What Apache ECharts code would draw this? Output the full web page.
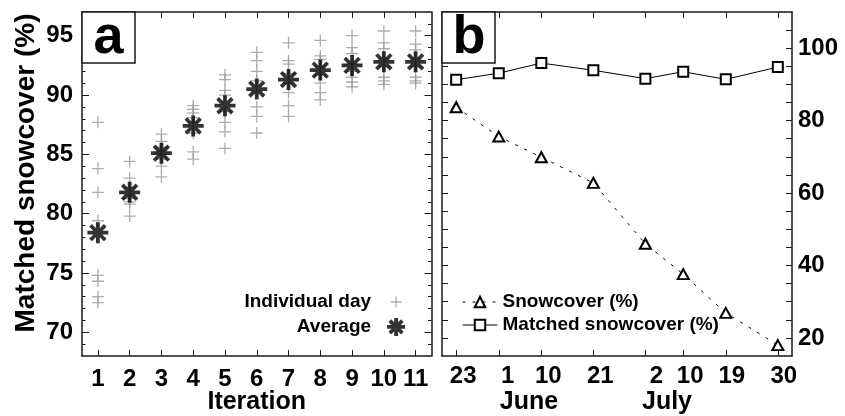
<!DOCTYPE html>
<html>
<head>
<meta charset="utf-8">
<script src="https://cdn.jsdelivr.net/npm/echarts@6/dist/echarts.min.js"></script>
<style>
html,body{margin:0;padding:0;background:#fff;}
#chart{width:845px;height:416px;}
</style>
</head>
<body>
<div id="chart"></div>
<script>
// ---------- Panel a data ----------
const iterations = [1, 2, 3, 4, 5, 6, 7, 8, 9, 10, 11];
const individualDayValues = [
  [87.7, 83.8, 81.8, 79.4, 74.8, 74.3, 73.0, 72.5],
  [84.4, 83.0, 82.2, 81.6, 81.3, 81.0, 80.8, 79.8],
  [86.7, 86.1, 85.6, 85.3, 85.0, 84.6, 84.0, 83.1],
  [89.1, 88.8, 88.5, 88.1, 87.7, 86.8, 85.2, 84.6],
  [91.7, 91.3, 90.4, 90.0, 88.6, 87.7, 86.9, 85.5],
  [93.6, 92.9, 92.0, 91.2, 90.3, 89.0, 88.2, 86.8],
  [94.4, 92.9, 92.6, 91.8, 91.0, 90.2, 89.1, 88.2],
  [94.6, 93.3, 93.0, 92.4, 91.7, 91.0, 90.2, 89.6],
  [95.0, 94.0, 93.5, 92.6, 92.0, 91.5, 91.1, 90.7],
  [95.4, 94.4, 93.9, 93.0, 92.4, 91.5, 91.2, 90.9],
  [95.4, 94.3, 93.8, 93.0, 92.4, 91.5, 91.2, 91.0]
];
const averageValues = [78.4, 81.8, 85.1, 87.4, 89.1, 90.5, 91.3, 92.1, 92.5, 92.8, 92.8];
const leftYLabels = [70, 75, 80, 85, 90, 95];
const leftYMinorTicks = [69,70,71,72,73,74,75,76,77,78,79,80,81,82,83,84,85,86,87,88,89,90,91,92,93,94,95,96];

// ---------- Panel b data ----------
const dateDayOfYear = [143, 152, 161, 172, 183, 191, 200, 211];   // May 23 ... Jul 30
const dateLabels = ['23', '1', '10', '21', '2', '10', '19', '30'];
const monthLabels = ['June', 'July'];
const snowcover = [83.7, 75.6, 69.9, 62.8, 46.0, 37.6, 26.9, 18.0];
const matchedSnowcover = [91.3, 93.1, 95.9, 93.9, 91.6, 93.5, 91.4, 94.8];
const rightYLabels = [20, 40, 60, 80, 100];
const rightYTicks = [20,25,30,35,40,45,50,55,60,65,70,75,80,85,90,95,100,105];

// label nudges (style only)
const dateLabelNudge = [7, 9, 7, 7, 11, 7, 6, 6];

const FONT = '"Liberation Sans", Arial, Helvetica, sans-serif';
const AX = '#1a1a1a';

const individualData = [];
individualDayValues.forEach((vals, i) => vals.forEach(v => individualData.push([iterations[i], v])));
const averageData = iterations.map((it, i) => [it, averageValues[i]]);
const snowData = dateDayOfYear.map((d, i) => [d, snowcover[i]]);
const matchedData = dateDayOfYear.map((d, i) => [d, matchedSnowcover[i]]);

const plusPath = 'path://M0,6L12,6M6,0L6,12';
const plusLegendPath = 'path://M-4,-4M16,16M0,6L12,6M6,0L6,12';
const starPath = 'path://M0,10L20,10M10,0L10,20M3,3L17,17M3,17L17,3';

const tickLabelStyle = {fontFamily: FONT, fontWeight: 'bold', fontSize: 24, color: '#000'};
const axisLine = {show: true, lineStyle: {color: AX, width: 1.5}};

const rich = {};
dateLabelNudge.forEach((n, i) => {
  rich['s' + i] = {fontFamily: FONT, fontWeight: 'bold', fontSize: 24, color: '#000', padding: [0, 0, 0, 2 * n]};
});

const chart = echarts.init(document.getElementById('chart'), null, {renderer: 'canvas'});
chart.setOption({
  animation: false,
  backgroundColor: '#fff',
  grid: [
    {left: 82, top: 12, width: 349.5, height: 344, containLabel: false, outerBoundsMode: 'none'},
    {left: 442, top: 12, width: 350, height: 344, containLabel: false, outerBoundsMode: 'none'}
  ],
  xAxis: [
    {gridIndex: 0, type: 'value', position: 'bottom', min: 0.5, max: 11.5,
     axisLine: axisLine, splitLine: {show: false},
     axisTick: {inside: true, length: 6, customValues: iterations, lineStyle: {color: AX, width: 1}},
     axisLabel: Object.assign({customValues: iterations, margin: 11}, tickLabelStyle),
     name: 'Iteration', nameLocation: 'middle', nameGap: 34, nameMoveOverlap: false,
     nameTextStyle: {fontFamily: FONT, fontWeight: 'bold', fontSize: 25, color: '#000'}},
    {gridIndex: 0, type: 'value', position: 'top', min: 0.5, max: 11.5,
     axisLine: axisLine, splitLine: {show: false},
     axisTick: {inside: true, length: 6, customValues: iterations, lineStyle: {color: AX, width: 1}},
     axisLabel: {show: false}},
    {gridIndex: 1, type: 'value', position: 'bottom', min: 140, max: 214,
     axisLine: axisLine, splitLine: {show: false},
     axisTick: {inside: true, length: 6, customValues: dateDayOfYear, lineStyle: {color: AX, width: 1}},
     axisLabel: Object.assign({customValues: dateDayOfYear, margin: 8, rich: rich,
       formatter: function (v) { const i = dateDayOfYear.indexOf(v); return '{s' + i + '|' + dateLabels[i] + '}'; }}, tickLabelStyle)},
    {gridIndex: 1, type: 'value', position: 'top', min: 140, max: 214,
     axisLine: axisLine, splitLine: {show: false},
     axisTick: {inside: true, length: 6, customValues: dateDayOfYear, lineStyle: {color: AX, width: 1}},
     axisLabel: {show: false}}
  ],
  yAxis: [
    {gridIndex: 0, type: 'value', position: 'left', min: 68, max: 97,
     axisLine: axisLine, splitLine: {show: false},
     axisTick: {inside: true, length: 7, customValues: leftYLabels, lineStyle: {color: AX, width: 1}},
     axisLabel: Object.assign({customValues: leftYLabels, margin: 9}, tickLabelStyle),
     name: 'Matched snowcover (%)', nameLocation: 'middle', nameGap: 42, nameRotate: 90,
     nameTextStyle: {fontFamily: FONT, fontWeight: 'bold', fontSize: 28, color: '#000', padding: [0, 0, 0, 22]}},
    {gridIndex: 0, type: 'value', position: 'left', min: 68, max: 97,
     axisLine: {show: false}, splitLine: {show: false},
     axisTick: {inside: true, length: 3.5, customValues: leftYMinorTicks, lineStyle: {color: AX, width: 1}},
     axisLabel: {show: false}},
    {gridIndex: 0, type: 'value', position: 'right', min: 68, max: 97,
     axisLine: axisLine, splitLine: {show: false},
     axisTick: {inside: true, length: 7, customValues: leftYLabels, lineStyle: {color: AX, width: 1}},
     axisLabel: {show: false}},
    {gridIndex: 0, type: 'value', position: 'right', min: 68, max: 97,
     axisLine: {show: false}, splitLine: {show: false},
     axisTick: {inside: true, length: 3.5, customValues: leftYMinorTicks, lineStyle: {color: AX, width: 1}},
     axisLabel: {show: false}},
    {gridIndex: 1, type: 'value', position: 'left', min: 15, max: 110,
     axisLine: axisLine, splitLine: {show: false},
     axisTick: {inside: true, length: 6, customValues: rightYTicks, lineStyle: {color: AX, width: 1}},
     axisLabel: {show: false}},
    {gridIndex: 1, type: 'value', position: 'right', min: 15, max: 110,
     axisLine: axisLine, splitLine: {show: false},
     axisTick: {inside: true, length: 6, customValues: rightYTicks, lineStyle: {color: AX, width: 1}},
     axisLabel: Object.assign({customValues: rightYLabels, margin: 6}, tickLabelStyle)}
  ],
  legend: [
    {orient: 'vertical', align: 'right', right: 438, top: 292, padding: 0, itemWidth: 40, itemHeight: 18, itemGap: 4,
     selectedMode: false,
     textStyle: {fontFamily: FONT, fontWeight: 'bold', fontSize: 19, color: '#000', lineHeight: 20},
     data: [
       {name: 'Individual day', icon: plusLegendPath, itemStyle: {color: '#999', borderColor: '#999', borderWidth: 1.3}},
       {name: 'Average', itemStyle: {color: '#000', borderColor: '#000', borderWidth: 3.8}}
     ]},
    {orient: 'vertical', align: 'left', left: 462, top: 292, padding: 0, itemWidth: 35, itemHeight: 13, itemGap: 3,
     selectedMode: false,
     textStyle: {fontFamily: FONT, fontWeight: 'bold', fontSize: 19, color: '#000', lineHeight: 20},
     lineStyle: {width: 1},
     data: ['Snowcover (%)', 'Matched snowcover (%)']}
  ],
  series: [
    {name: 'Individual day', type: 'scatter', xAxisIndex: 0, yAxisIndex: 0, data: individualData,
     symbol: plusPath, symbolSize: 12, symbolKeepAspect: true, z: 2,
     itemStyle: {color: '#999', borderColor: '#999', borderWidth: 1.3}, silent: true},
    {name: 'Average', type: 'scatter', xAxisIndex: 0, yAxisIndex: 0, data: averageData,
     symbol: starPath, symbolSize: 21, symbolKeepAspect: true, z: 3,
     itemStyle: {color: '#000', borderColor: '#000', borderWidth: 3.8}, silent: true},
    {name: 'Snowcover (%)', type: 'line', xAxisIndex: 2, yAxisIndex: 5, data: snowData,
     symbol: 'emptyTriangle', symbolSize: [11, 10], showAllSymbol: true,
     lineStyle: {color: '#000', width: 1, type: [3, 7]},
     itemStyle: {color: '#000', borderWidth: 1}, silent: true},
    {name: 'Matched snowcover (%)', type: 'line', xAxisIndex: 2, yAxisIndex: 5, data: matchedData,
     symbol: 'emptyRect', symbolSize: 10, showAllSymbol: true,
     lineStyle: {color: '#000', width: 1},
     itemStyle: {color: '#000', borderWidth: 1}, silent: true}
  ],
  graphic: [
    {type: 'rect', shape: {x: 82, y: 12, width: 53, height: 51}, style: {fill: '#fff', stroke: AX, lineWidth: 1.5}, z: 10},
    {type: 'text', x: 108.5, y: 38, style: {text: 'a', font: 'bold 54px ' + FONT, fill: '#000', align: 'center', verticalAlign: 'middle'}, z: 11},
    {type: 'rect', shape: {x: 442, y: 12, width: 53, height: 51}, style: {fill: '#fff', stroke: AX, lineWidth: 1.5}, z: 10},
    {type: 'text', x: 469, y: 38, style: {text: 'b', font: 'bold 54px ' + FONT, fill: '#000', align: 'center', verticalAlign: 'middle'}, z: 11},
    {type: 'text', x: 529, y: 402, style: {text: monthLabels[0], font: 'bold 25px ' + FONT, fill: '#000', align: 'center', verticalAlign: 'middle'}},
    {type: 'text', x: 667, y: 402, style: {text: monthLabels[1], font: 'bold 25px ' + FONT, fill: '#000', align: 'center', verticalAlign: 'middle'}}
  ]
});
</script>
</body>
</html>
